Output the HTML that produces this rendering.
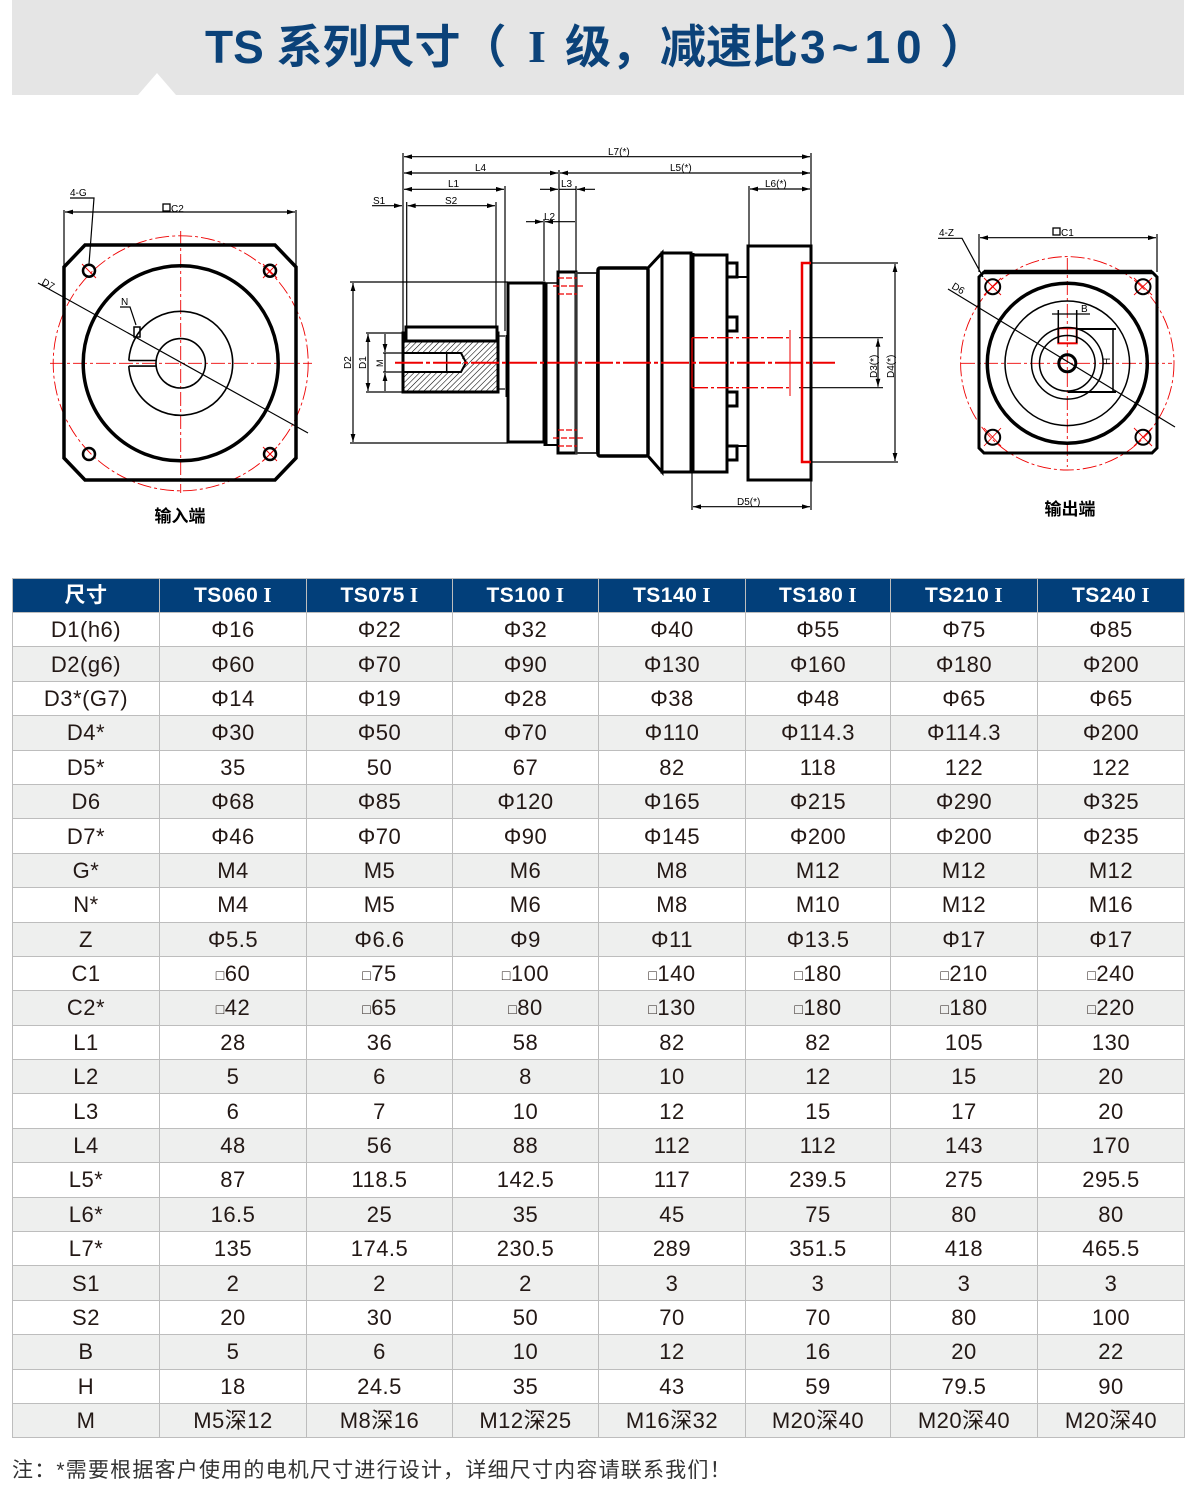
<!DOCTYPE html>
<html><head><meta charset="utf-8">
<style>
html,body{margin:0;padding:0;background:#fff;}
body{width:1196px;height:1492px;position:relative;overflow:hidden;font-family:"Liberation Sans","Noto Sans CJK SC",sans-serif;}
.hdr{position:absolute;left:12px;top:0;width:1172px;height:95px;background:#e5e5e5;}
.tri{position:absolute;left:138px;top:73px;width:0;height:0;border-left:19px solid transparent;border-right:19px solid transparent;border-bottom:22px solid #fff;}
.t{position:absolute;top:22px;font-size:46px;line-height:50px;font-weight:bold;color:#0b4279;white-space:nowrap;font-family:"Liberation Sans","Noto Sans CJK SC",sans-serif;}
table{position:absolute;left:12px;top:578px;width:1172px;border-collapse:collapse;table-layout:fixed;}
td,th{border:1px solid #bdbdbd;text-align:center;padding:0;font-size:22px;color:#231815;font-weight:normal;letter-spacing:0.5px;overflow:hidden;}
th{background:#023f7a;color:#fff;font-weight:bold;font-size:21px;height:33px;line-height:33px;border-color:#bdbdbd;}
th .r{font-family:"Liberation Serif",serif;font-weight:bold;margin-left:5px;}
td{height:33.4px;line-height:33px;}
tr:nth-child(odd) td{background:#eeefee;}
.sq{font-size:14px;line-height:0;position:relative;top:-1px;}
.note{position:absolute;left:12px;top:1454px;font-size:21px;letter-spacing:1.2px;color:#333;white-space:nowrap;font-family:"Liberation Sans","Noto Sans CJK SC",sans-serif;}
svg text{font-family:"Liberation Sans","Noto Sans CJK SC",sans-serif;}
</style></head><body>
<div class="hdr"></div>
<div class="tri"></div>
<div class="t" style="left:205px">TS 系列尺寸（</div>
<div class="t" style="left:528px;font-family:'Liberation Serif',serif;">I</div>
<div class="t" style="left:565px">级，</div>
<div class="t" style="left:660px">减速比</div>
<div class="t" style="left:800px;letter-spacing:6px">3~10</div>
<div class="t" style="left:940px">）</div>

<svg width="1196" height="560" style="position:absolute;left:0;top:0" xmlns="http://www.w3.org/2000/svg">
<defs>
<marker id="a" viewBox="0 0 10 6" refX="10" refY="3" markerWidth="8" markerHeight="4" orient="auto-start-reverse"><path d="M0,0L10,3L0,6z" fill="#000"/></marker>
<pattern id="h" width="4" height="4" patternUnits="userSpaceOnUse" patternTransform="rotate(45)"><line x1="0" y1="0" x2="0" y2="4" stroke="#000" stroke-width="1.1"/></pattern>
</defs>

<!-- LEFT VIEW -->
<g fill="none" stroke="#e00" stroke-width="0.9">
<circle cx="180.7" cy="363.3" r="127.5" stroke-dasharray="14 3 3 3"/>
<line x1="50" y1="363.3" x2="312" y2="363.3" stroke-dasharray="14 3 3 3"/>
<line x1="180.7" y1="231" x2="180.7" y2="493" stroke-dasharray="14 3 3 3"/>
<line x1="263" y1="264" x2="277" y2="278"/><line x1="277" y1="264" x2="263" y2="278"/>
<line x1="263" y1="447" x2="277" y2="461"/><line x1="277" y1="447" x2="263" y2="461"/>
<line x1="82" y1="264" x2="96" y2="278"/>
</g>
<g fill="none" stroke="#000">
<polygon points="85,245 275,245 296,267 296,458 275,480 85,480 64,458 64,267" stroke-width="3.5"/>
<circle cx="180.7" cy="363.3" r="97.5" stroke-width="3.5"/>
<path d="M 128.8 360.5 A 52 52 0 1 1 128.8 366.1" stroke-width="1.6"/>
<line x1="128.8" y1="360.5" x2="156" y2="360.5" stroke-width="1.6"/>
<line x1="128.8" y1="366.1" x2="156" y2="366.1" stroke-width="1.6"/>
<circle cx="180.7" cy="363.3" r="24.7" stroke-width="1.6"/>
<rect x="134" y="327" width="6" height="10" stroke-width="1.5"/>
<circle cx="89" cy="270.7" r="6" stroke-width="2.5"/>
<circle cx="270" cy="270.7" r="6" stroke-width="2.5"/>
<circle cx="89" cy="454" r="6" stroke-width="2.5"/>
<circle cx="270" cy="454" r="6" stroke-width="2.5"/>
<line x1="38" y1="283" x2="308" y2="433" stroke-width="1.2"/>
<line x1="64" y1="210" x2="64" y2="266" stroke-width="1.2"/>
<line x1="296" y1="210" x2="296" y2="266" stroke-width="1.2"/>
<line x1="65" y1="212" x2="295" y2="212" stroke-width="1.2" marker-start="url(#a)" marker-end="url(#a)"/>
<polyline points="70,198 94,198 89,264" stroke-width="1.2"/>
<polyline points="120,307 130,307 136,325" stroke-width="1.2"/>
</g>
<g font-size="10" fill="#000">
<text x="70" y="196">4-G</text>
<rect x="163" y="204" width="7" height="7" fill="none" stroke="#000" stroke-width="1.3"/>
<text x="171" y="212">C2</text>
<text x="121" y="305">N</text>
<text transform="translate(41,284) rotate(29)">D7</text>
<text x="180" y="522" font-size="17" text-anchor="middle" font-weight="bold">输入端</text>
</g>

<!-- MIDDLE VIEW -->
<g fill="none" stroke="#000" stroke-width="1.2">
<line x1="403" y1="153" x2="403" y2="333"/>
<line x1="406.7" y1="202" x2="406.7" y2="327"/>
<line x1="496" y1="202" x2="496" y2="327"/>
<line x1="505" y1="186" x2="505" y2="331"/>
<line x1="559" y1="170" x2="559" y2="272"/>
<line x1="576" y1="186" x2="576" y2="272"/>
<line x1="544" y1="219" x2="544" y2="281"/>
<line x1="749" y1="186" x2="749" y2="246"/>
<line x1="811" y1="153" x2="811" y2="246"/>
<line x1="404" y1="156.7" x2="810" y2="156.7" marker-start="url(#a)" marker-end="url(#a)"/>
<line x1="404" y1="173" x2="558" y2="173" marker-start="url(#a)" marker-end="url(#a)"/>
<line x1="560" y1="173" x2="810" y2="173" marker-start="url(#a)" marker-end="url(#a)"/>
<line x1="404" y1="189.3" x2="504" y2="189.3" marker-start="url(#a)" marker-end="url(#a)"/>
<line x1="540" y1="189.3" x2="558" y2="189.3" marker-end="url(#a)"/>
<line x1="595" y1="189.3" x2="577" y2="189.3" marker-end="url(#a)"/>
<line x1="559" y1="189.3" x2="576" y2="189.3"/>
<line x1="372" y1="205.7" x2="402" y2="205.7" marker-end="url(#a)"/>
<line x1="407.7" y1="205.7" x2="495" y2="205.7" marker-start="url(#a)" marker-end="url(#a)"/>
<line x1="526" y1="221.7" x2="543" y2="221.7" marker-end="url(#a)"/>
<line x1="545" y1="221.7" x2="575" y2="221.7" marker-start="url(#a)"/>
<line x1="750" y1="189" x2="810" y2="189" marker-start="url(#a)" marker-end="url(#a)"/>
<line x1="350" y1="282" x2="508" y2="282"/>
<line x1="350" y1="443" x2="508" y2="443"/>
<line x1="353" y1="283" x2="353" y2="442" marker-start="url(#a)" marker-end="url(#a)"/>
<line x1="366" y1="333" x2="403" y2="333"/>
<line x1="366" y1="392" x2="403" y2="392"/>
<line x1="368" y1="334" x2="368" y2="391" marker-start="url(#a)" marker-end="url(#a)"/>
<line x1="383" y1="353" x2="403" y2="353"/>
<line x1="383" y1="372" x2="403" y2="372"/>
<line x1="385" y1="334" x2="385" y2="352" marker-end="url(#a)"/>
<line x1="385" y1="391" x2="385" y2="373" marker-end="url(#a)"/>
<line x1="385" y1="353" x2="385" y2="372"/>
<line x1="811" y1="263" x2="898" y2="263"/>
<line x1="811" y1="462" x2="898" y2="462"/>
<line x1="895" y1="264" x2="895" y2="461" marker-start="url(#a)" marker-end="url(#a)"/>
<line x1="799" y1="337.7" x2="883" y2="337.7"/>
<line x1="799" y1="387.7" x2="883" y2="387.7"/>
<line x1="878" y1="338.7" x2="878" y2="386.7" marker-start="url(#a)" marker-end="url(#a)"/>
<line x1="692" y1="472" x2="692" y2="510"/>
<line x1="811" y1="480" x2="811" y2="510"/>
<line x1="693" y1="506.7" x2="810" y2="506.7" marker-start="url(#a)" marker-end="url(#a)"/>
</g>
<rect x="403" y="342" width="95" height="49" fill="url(#h)"/>
<rect x="404" y="353" width="58" height="19" fill="#fff"/>
<g fill="none" stroke="#000" stroke-width="3">
<rect x="403" y="333" width="95" height="59"/>
<rect x="406" y="327" width="91" height="14" fill="#fff"/>
<polyline points="403,353 461,353 466,362.5 461,372 403,372" stroke-width="2"/>
<line x1="446.7" y1="353" x2="446.7" y2="372" stroke-width="1.5"/>
<line x1="507" y1="335" x2="507" y2="397"/>
<line x1="498" y1="336" x2="505" y2="336" stroke-width="1.2"/>
<line x1="498" y1="389" x2="505" y2="389" stroke-width="1.2"/>
<rect x="508" y="283" width="36" height="159"/>
<line x1="545.5" y1="283" x2="545.5" y2="446" stroke-width="4"/>
<line x1="545" y1="283" x2="558" y2="283" stroke-width="1.5"/>
<line x1="545" y1="445" x2="558" y2="445" stroke-width="2"/>
<rect x="558" y="272" width="18" height="181"/>
<rect x="576" y="273" width="21" height="180" stroke-width="2" stroke="#333"/>
<rect x="598" y="268" width="50" height="188" rx="2" stroke-width="3.5"/>
<polyline points="648,268 662,253 662,472 648,456"/>
<rect x="662" y="253" width="29" height="219"/>
<line x1="692.5" y1="253" x2="692.5" y2="472" stroke-width="4"/>
<rect x="691" y="255" width="36" height="217"/>
<rect x="727" y="263" width="10" height="14" fill="#fff"/>
<rect x="727" y="317" width="10" height="14" fill="#fff"/>
<rect x="727" y="392" width="10" height="14" fill="#fff"/>
<rect x="727" y="446" width="10" height="14" fill="#fff"/>
<line x1="737" y1="277" x2="749" y2="277" stroke-width="2"/>
<line x1="737" y1="446" x2="749" y2="446" stroke-width="2"/>
<rect x="748" y="246" width="63" height="234"/>
</g>
<g fill="none" stroke="#e00">
<polyline points="811,263 802,263 802,462 811,462" stroke-width="2.5"/>
<line x1="395" y1="362.7" x2="835" y2="362.7" stroke-width="2" stroke-dasharray="28 3 4 3"/>
<line x1="692" y1="337.7" x2="692" y2="387.7" stroke-width="1.3"/>
<line x1="692" y1="337.7" x2="790" y2="337.7" stroke-width="1.3" stroke-dasharray="16 3 3 3"/>
<line x1="692" y1="387.7" x2="790" y2="387.7" stroke-width="1.3" stroke-dasharray="16 3 3 3"/>
<line x1="790" y1="330" x2="790" y2="396" stroke-width="1"/>
<line x1="558" y1="278" x2="577" y2="278" stroke-width="1.2" stroke-dasharray="6 2"/>
<line x1="553" y1="286" x2="583" y2="286" stroke-width="1.2" stroke-dasharray="6 2"/>
<line x1="558" y1="294" x2="577" y2="294" stroke-width="1.2" stroke-dasharray="6 2"/>
<line x1="558" y1="430" x2="577" y2="430" stroke-width="1.2" stroke-dasharray="6 2"/>
<line x1="553" y1="438" x2="583" y2="438" stroke-width="1.2" stroke-dasharray="6 2"/>
<line x1="558" y1="446" x2="577" y2="446" stroke-width="1.2" stroke-dasharray="6 2"/>
</g>
<g font-size="10" fill="#000">
<text x="608" y="155">L7(*)</text>
<text x="475" y="171">L4</text>
<text x="670" y="171">L5(*)</text>
<text x="448" y="187">L1</text>
<text x="561" y="187">L3</text>
<text x="373" y="204">S1</text>
<text x="445" y="204">S2</text>
<text x="544" y="220">L2</text>
<text x="765" y="187">L6(*)</text>
<text x="737" y="505">D5(*)</text>
<text transform="translate(351,369) rotate(-90)">D2</text>
<text transform="translate(366,369) rotate(-90)">D1</text>
<text transform="translate(383,367) rotate(-90)" font-size="9">M</text>
<text transform="translate(877,378) rotate(-90)">D3(*)</text>
<text transform="translate(894,378) rotate(-90)">D4(*)</text>
</g>

<!-- RIGHT VIEW -->
<g fill="none" stroke="#e00" stroke-width="0.9">
<circle cx="1067.3" cy="363.3" r="106.7" stroke-dasharray="14 3 3 3"/>
<line x1="961" y1="363.3" x2="1172" y2="363.3" stroke-dasharray="14 3 3 3"/>
<line x1="1067.3" y1="258" x2="1067.3" y2="467" stroke-dasharray="14 3 3 3"/>
<line x1="984" y1="278" x2="1001" y2="295"/><line x1="1001" y1="278" x2="984" y2="295"/>
<line x1="1134" y1="278" x2="1152" y2="295"/><line x1="1152" y1="278" x2="1134" y2="295"/>
<line x1="984" y1="428" x2="1001" y2="446"/><line x1="1001" y1="428" x2="984" y2="446"/>
<line x1="1134" y1="428" x2="1152" y2="446"/><line x1="1152" y1="428" x2="1134" y2="446"/>
<rect x="1058.3" y="328.3" width="18.4" height="15" stroke-width="2"/>
</g>
<g fill="none" stroke="#000">
<polygon points="984,272 1152,272 1157,277 1157,448 1152,453 984,453 979,448 979,277" stroke-width="3"/>
<line x1="984" y1="272" x2="1152" y2="272" stroke-width="4.5"/>
<circle cx="1067.3" cy="363.3" r="80" stroke-width="3.5"/>
<circle cx="1067.3" cy="363.3" r="62.3" stroke-width="1.5"/>
<circle cx="1067.3" cy="363.3" r="35.8" stroke-width="1.5"/>
<circle cx="1067.3" cy="363.3" r="27.8" stroke-width="1.5"/>
<circle cx="1067.3" cy="363.3" r="8.5" stroke-width="3"/>
<circle cx="992.7" cy="286.7" r="7.5" stroke-width="2"/>
<circle cx="1143" cy="286.7" r="7.5" stroke-width="2"/>
<circle cx="992.7" cy="437.3" r="7.5" stroke-width="2"/>
<circle cx="1143" cy="437.3" r="7.5" stroke-width="2"/>
<line x1="948" y1="289" x2="1175" y2="427" stroke-width="1.2"/>
<line x1="979" y1="234" x2="979" y2="272" stroke-width="1.2"/>
<line x1="1157" y1="234" x2="1157" y2="272" stroke-width="1.2"/>
<line x1="980" y1="237.7" x2="1156" y2="237.7" stroke-width="1.2" marker-start="url(#a)" marker-end="url(#a)"/>
<polyline points="938,238.3 962,238.3 983,277" stroke-width="1.2"/>
<line x1="1058.3" y1="310" x2="1058.3" y2="343" stroke-width="1.5"/>
<line x1="1076.7" y1="310" x2="1076.7" y2="343" stroke-width="1.5"/>
<line x1="1052" y1="314" x2="1090" y2="314" stroke-width="1.2"/>
<line x1="1076.7" y1="329" x2="1116" y2="329" stroke-width="2"/>
<line x1="1068" y1="392" x2="1116" y2="392" stroke-width="2"/>
<line x1="1113" y1="330" x2="1113" y2="391" stroke-width="1.5"/>
</g>
<g font-size="10" fill="#000">
<text x="939" y="236">4-Z</text>
<rect x="1053" y="228" width="7" height="7" fill="none" stroke="#000" stroke-width="1.3"/>
<text x="1061" y="236">C1</text>
<text transform="translate(951,288) rotate(31)">D6</text>
<text x="1081" y="312">B</text>
<text transform="translate(1110,365) rotate(-90)">H</text>
<text x="1070" y="515" font-size="17" text-anchor="middle" font-weight="bold">输出端</text>
</g>
</svg>

<table>
<colgroup><col style="width:147px"><col style="width:147px"><col style="width:146px"><col style="width:146px"><col style="width:147px"><col style="width:145px"><col style="width:147px"><col style="width:147px"></colgroup>
<tr><th>尺寸</th><th>TS060<span class="r">I</span></th><th>TS075<span class="r">I</span></th><th>TS100<span class="r">I</span></th><th>TS140<span class="r">I</span></th><th>TS180<span class="r">I</span></th><th>TS210<span class="r">I</span></th><th>TS240<span class="r">I</span></th></tr>
<tr><td>D1(h6)</td><td>Φ16</td><td>Φ22</td><td>Φ32</td><td>Φ40</td><td>Φ55</td><td>Φ75</td><td>Φ85</td></tr>
<tr><td>D2(g6)</td><td>Φ60</td><td>Φ70</td><td>Φ90</td><td>Φ130</td><td>Φ160</td><td>Φ180</td><td>Φ200</td></tr>
<tr><td>D3*(G7)</td><td>Φ14</td><td>Φ19</td><td>Φ28</td><td>Φ38</td><td>Φ48</td><td>Φ65</td><td>Φ65</td></tr>
<tr><td>D4*</td><td>Φ30</td><td>Φ50</td><td>Φ70</td><td>Φ110</td><td>Φ114.3</td><td>Φ114.3</td><td>Φ200</td></tr>
<tr><td>D5*</td><td>35</td><td>50</td><td>67</td><td>82</td><td>118</td><td>122</td><td>122</td></tr>
<tr><td>D6</td><td>Φ68</td><td>Φ85</td><td>Φ120</td><td>Φ165</td><td>Φ215</td><td>Φ290</td><td>Φ325</td></tr>
<tr><td>D7*</td><td>Φ46</td><td>Φ70</td><td>Φ90</td><td>Φ145</td><td>Φ200</td><td>Φ200</td><td>Φ235</td></tr>
<tr><td>G*</td><td>M4</td><td>M5</td><td>M6</td><td>M8</td><td>M12</td><td>M12</td><td>M12</td></tr>
<tr><td>N*</td><td>M4</td><td>M5</td><td>M6</td><td>M8</td><td>M10</td><td>M12</td><td>M16</td></tr>
<tr><td>Z</td><td>Φ5.5</td><td>Φ6.6</td><td>Φ9</td><td>Φ11</td><td>Φ13.5</td><td>Φ17</td><td>Φ17</td></tr>
<tr><td>C1</td><td><span class="sq">□</span>60</td><td><span class="sq">□</span>75</td><td><span class="sq">□</span>100</td><td><span class="sq">□</span>140</td><td><span class="sq">□</span>180</td><td><span class="sq">□</span>210</td><td><span class="sq">□</span>240</td></tr>
<tr><td>C2*</td><td><span class="sq">□</span>42</td><td><span class="sq">□</span>65</td><td><span class="sq">□</span>80</td><td><span class="sq">□</span>130</td><td><span class="sq">□</span>180</td><td><span class="sq">□</span>180</td><td><span class="sq">□</span>220</td></tr>
<tr><td>L1</td><td>28</td><td>36</td><td>58</td><td>82</td><td>82</td><td>105</td><td>130</td></tr>
<tr><td>L2</td><td>5</td><td>6</td><td>8</td><td>10</td><td>12</td><td>15</td><td>20</td></tr>
<tr><td>L3</td><td>6</td><td>7</td><td>10</td><td>12</td><td>15</td><td>17</td><td>20</td></tr>
<tr><td>L4</td><td>48</td><td>56</td><td>88</td><td>112</td><td>112</td><td>143</td><td>170</td></tr>
<tr><td>L5*</td><td>87</td><td>118.5</td><td>142.5</td><td>117</td><td>239.5</td><td>275</td><td>295.5</td></tr>
<tr><td>L6*</td><td>16.5</td><td>25</td><td>35</td><td>45</td><td>75</td><td>80</td><td>80</td></tr>
<tr><td>L7*</td><td>135</td><td>174.5</td><td>230.5</td><td>289</td><td>351.5</td><td>418</td><td>465.5</td></tr>
<tr><td>S1</td><td>2</td><td>2</td><td>2</td><td>3</td><td>3</td><td>3</td><td>3</td></tr>
<tr><td>S2</td><td>20</td><td>30</td><td>50</td><td>70</td><td>70</td><td>80</td><td>100</td></tr>
<tr><td>B</td><td>5</td><td>6</td><td>10</td><td>12</td><td>16</td><td>20</td><td>22</td></tr>
<tr><td>H</td><td>18</td><td>24.5</td><td>35</td><td>43</td><td>59</td><td>79.5</td><td>90</td></tr>
<tr><td>M</td><td>M5深12</td><td>M8深16</td><td>M12深25</td><td>M16深32</td><td>M20深40</td><td>M20深40</td><td>M20深40</td></tr>
</table>

<div class="note">注：*需要根据客户使用的电机尺寸进行设计，详细尺寸内容请联系我们！</div>
</body></html>
